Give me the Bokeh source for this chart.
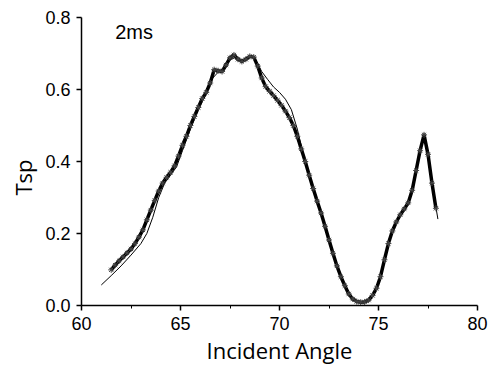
from bokeh.plotting import figure
from bokeh.models import Range1d, FixedTicker, Label, Title, CustomJSTickFormatter
from bokeh.embed import file_html
from bokeh.resources import INLINE

# Experimental data (asterisk markers)
exp_x = [61.5, 61.7, 61.9, 62.1, 62.3, 62.5, 62.7, 62.9, 63.1, 63.3, 63.5, 63.7, 63.9,
         64.1, 64.3, 64.5, 64.7, 64.9, 65.1, 65.3, 65.5, 65.7, 65.9, 66.1, 66.3, 66.5,
         66.7, 66.9, 67.1, 67.3, 67.5, 67.7, 67.9, 68.1, 68.3, 68.5, 68.7, 68.9, 69.1,
         69.3, 69.5, 69.7, 69.9, 70.1, 70.3, 70.5, 70.7, 70.9, 71.1, 71.3, 71.5, 71.7,
         71.9, 72.1, 72.3, 72.5, 72.7, 72.9, 73.1, 73.3, 73.5, 73.7, 73.9, 74.1, 74.3,
         74.5, 74.7, 74.9, 75.1, 75.3, 75.5, 75.7, 75.9, 76.1, 76.3, 76.5, 76.7, 76.9,
         77.1, 77.3, 77.5, 77.7, 77.9]
exp_y = [0.099, 0.112, 0.124, 0.135, 0.146, 0.157, 0.172, 0.190, 0.210, 0.238, 0.265, 0.292, 0.318,
         0.340, 0.356, 0.370, 0.388, 0.415, 0.445, 0.470, 0.500, 0.525, 0.550, 0.575, 0.592, 0.618,
         0.655, 0.652, 0.650, 0.668, 0.688, 0.696, 0.684, 0.678, 0.684, 0.692, 0.690, 0.665, 0.632,
         0.608, 0.595, 0.583, 0.570, 0.556, 0.540, 0.522, 0.500, 0.470, 0.435, 0.400, 0.362, 0.325,
         0.290, 0.257, 0.220, 0.182, 0.145, 0.110, 0.080, 0.055, 0.032, 0.018, 0.011, 0.009, 0.010,
         0.015, 0.028, 0.048, 0.080, 0.127, 0.172, 0.207, 0.232, 0.252, 0.268, 0.285, 0.320, 0.375,
         0.430, 0.474, 0.420, 0.340, 0.270]

# Theoretical curve (thin line)
fit_x = [61.0, 61.5, 62.0, 62.5, 63.0, 63.3, 63.6, 63.9, 64.2, 64.5, 64.8, 65.1, 65.5, 65.9,
         66.3, 66.6, 66.9, 67.2, 67.5, 67.8, 68.1, 68.4, 68.7, 68.9, 69.1, 69.4, 69.7, 70.0,
         70.3, 70.6, 70.9, 71.2, 71.5, 71.8, 72.1, 72.4, 72.7, 73.0, 73.3, 73.6, 73.9, 74.2,
         74.5, 74.8, 75.1, 75.4, 75.7, 76.0, 76.3, 76.6, 76.9, 77.1, 77.3, 77.5, 77.7, 78.0]
fit_y = [0.057, 0.083, 0.110, 0.140, 0.172, 0.200, 0.245, 0.300, 0.340, 0.362, 0.385, 0.430, 0.490, 0.545,
         0.588, 0.630, 0.648, 0.660, 0.682, 0.690, 0.682, 0.688, 0.690, 0.672, 0.650, 0.628, 0.607, 0.592,
         0.573, 0.544, 0.490, 0.420, 0.360, 0.305, 0.255, 0.200, 0.145, 0.094, 0.055, 0.025, 0.011, 0.009,
         0.015, 0.037, 0.080, 0.150, 0.207, 0.243, 0.268, 0.300, 0.375, 0.430, 0.478, 0.410, 0.340, 0.240]

x_ticks = [60, 65, 70, 75, 80]
x_minor = [62.5, 67.5, 72.5, 77.5]
y_ticks = [0.0, 0.2, 0.4, 0.6, 0.8]

p = figure(width=491, height=372, output_backend="svg", toolbar_location=None,
           x_range=Range1d(60, 80), y_range=Range1d(0, 0.8),
           frame_width=396, frame_height=288,
           min_border_left=80, min_border_right=15, min_border_top=17, min_border_bottom=67)
p.outline_line_color = None
p.xgrid.grid_line_color = None
p.ygrid.grid_line_color = None
p.background_fill_color = "white"
p.border_fill_color = "white"

p.line(fit_x, fit_y, line_color="black", line_width=1)
p.line(exp_x, exp_y, line_color="black", line_width=3.5)
p.scatter(exp_x, exp_y, marker="asterisk", size=6, line_color="#444444", line_width=1)

p.xaxis.ticker = FixedTicker(ticks=x_ticks, minor_ticks=x_minor)
p.yaxis.ticker = FixedTicker(ticks=y_ticks, minor_ticks=[])
p.yaxis.formatter = CustomJSTickFormatter(code="return tick.toFixed(1);")

for ax in (p.xaxis[0], p.yaxis[0]):
    ax.axis_line_color = "black"
    ax.axis_line_width = 1.5
    ax.major_tick_line_color = "black"
    ax.major_tick_line_width = 1.5
    ax.major_tick_out = 5
    ax.major_tick_in = 0
    ax.minor_tick_line_color = "black"
    ax.minor_tick_out = 3
    ax.minor_tick_in = 0
    ax.major_label_text_font = "Liberation Sans"
    ax.major_label_text_font_size = "18px"
    ax.major_label_text_color = "black"

p.xaxis.axis_label = "Incident Angle"
p.xaxis.axis_label_text_font = "Open Sans"
p.xaxis.axis_label_text_font_size = "22px"
p.xaxis.axis_label_text_font_style = "normal"
p.xaxis.axis_label_text_color = "black"
p.xaxis.major_label_standoff = 6
p.yaxis.major_label_standoff = 6
p.xaxis.axis_label_standoff = 2

p.add_layout(Title(text="Tsp", align="left", offset=110, standoff=10,
                   text_font="Open Sans", text_font_size="22px",
                   text_font_style="normal", text_color="black"), "left")

p.add_layout(Label(x=61.7, y=0.73, text="2ms", text_font="Liberation Sans",
                   text_font_size="20px", text_color="black"))

open("out.html", "w").write(file_html(p, INLINE))
